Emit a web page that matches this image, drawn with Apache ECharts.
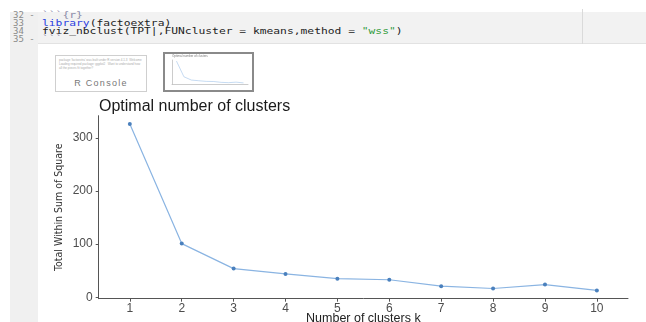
<!DOCTYPE html>
<html>
<head>
<meta charset="utf-8">
<script src="https://cdn.jsdelivr.net/npm/echarts@6/dist/echarts.min.js"></script>
<style>
  body { margin: 0; width: 646px; height: 322px; background: #fff; position: relative; overflow: hidden; font-family: "Liberation Sans", Arial, sans-serif; }
  .abs { position: absolute; }
  #gutter { left: 10px; top: 12px; width: 28px; height: 310px; background: #f0f0f0; }
  #code { left: 38px; top: 12px; right: 0; height: 31px; background: #f2f2f2; border-bottom: 1px solid #e2e2e2; }
  #printMargin { left: 582px; top: 9px; width: 1px; height: 35px; background: #dadada; }
  .ln { left: 13px; font: 9px "DejaVu Sans Mono", monospace; color: #8a8a8a; line-height: 8px; }
  .cl { left: 42px; font: 10px "DejaVu Sans Mono", monospace; color: #222; line-height: 8px; white-space: pre; transform: scaleX(1.13) scaleY(0.9); transform-origin: left center; }
  .kw { color: #2b3fe0; }
  .str { color: #2f9a3a; }
  .tick { color: #8a8aa8; }
  #thumb1 { left: 55px; top: 55px; width: 90px; height: 35px; border: 1px solid #cfcfcf; background: #fff; }
  #thumb1 .tiny { position: absolute; left: 3px; font-size: 3px; line-height: 3px; color: #aaa; white-space: pre; }
  #thumb1 .rc { position: absolute; left: 0; width: 90px; top: 22px; text-align: center; font-size: 9px; color: #777; letter-spacing: 1.3px; }
  #thumb2 { left: 163px; top: 52px; width: 87px; height: 36px; border: 2px solid #8a8a8a; background: #fff; }
  #chart { position: absolute; left: 0; top: 0; width: 646px; height: 322px; z-index: 2; }
</style>
</head>
<body>
<div id="gutter" class="abs"></div>
<div id="code" class="abs"></div>
<div id="printMargin" class="abs"></div>
<div class="abs ln" style="top:11px">32 -</div>
<div class="abs ln" style="top:19px">33</div>
<div class="abs ln" style="top:27px">34</div>
<div class="abs ln" style="top:35px">35 -</div>
<div class="abs cl" style="top:11px"><span class="tick">```{r}</span></div>
<div class="abs cl" style="top:19px"><span class="kw">library</span>(factoextra)</div>
<div class="abs cl" style="top:27px">fviz_nbclust(TPT|,FUNcluster = kmeans,method = <span class="str">"wss"</span>)</div>
<div class="abs cl" style="top:35px"><span class="tick">```</span></div>
<div id="thumb1" class="abs">
  <div class="tiny" style="top:3px">package 'factoextra' was built under R version 4.1.3  Welcome</div>
  <div class="tiny" style="top:7px">Loading required package: ggplot2   Want to understand how</div>
  <div class="tiny" style="top:11px">all the pieces fit together?</div>
  <div class="rc">R Console</div>
</div>
<div id="thumb2" class="abs"></div>
<div id="chart"></div>
<script>
const clusterK = [1, 2, 3, 4, 5, 6, 7, 8, 9, 10];
const totalWithinSS = [326, 101, 54, 44, 35, 33, 21, 16.5, 24, 13];
const xTickLabels = [1, 2, 3, 4, 5, 6, 7, 8, 9, 10];
const yTickLabels = [0, 100, 200, 300];

const points = clusterK.map((k, i) => [k, totalWithinSS[i]]);
// ggplot style 5% expansion around the data range
const yMin = -2.65, yMax = 341.6;

const chart = echarts.init(document.getElementById("chart"), null, { renderer: "canvas" });

const axisGray = "#555";
const labelGray = "#4d4d4d";

chart.setOption({
  backgroundColor: "transparent",
  animation: false,
  title: [
    {
      text: "Optimal number of clusters",
      left: 99,
      top: 99,
      padding: 0,
      textStyle: { fontSize: 16, fontWeight: "normal", color: "#1a1a1a", fontFamily: "Liberation Sans" },
    },
    {
      text: "Optimal number of clusters",
      left: 172,
      top: 55,
      padding: 0,
      textStyle: { fontSize: 3, fontWeight: "normal", color: "#777" },
    },
  ],
  grid: [
    { left: 98.7, right: 18, top: 115.7, bottom: 23.3, outerBoundsMode: "none", containLabel: false },
    { left: 172, right: 398, top: 60, bottom: 238, outerBoundsMode: "none", containLabel: false },
  ],
  xAxis: [
    {
      type: "value",
      gridIndex: 0,
      min: 0.4,
      max: 10.6,
      name: "Number of clusters k",
      nameLocation: "middle",
      nameGap: 13,
      nameMoveOverlap: false,
      nameTextStyle: { fontSize: 12.5, color: "#222", fontFamily: "Liberation Sans" },
      splitLine: { show: false },
      axisLine: { onZero: false, lineStyle: { color: axisGray, width: 1 } },
      axisTick: { show: true, length: 3, customValues: xTickLabels, lineStyle: { color: axisGray } },
      axisLabel: { customValues: xTickLabels, margin: 4, fontSize: 12, color: labelGray, fontFamily: "Liberation Sans" },
    },
    {
      type: "value",
      gridIndex: 1,
      min: 0.4,
      max: 10.6,
      splitLine: { show: false },
      axisLine: { onZero: false, lineStyle: { color: "#999", width: 0.5 } },
      axisTick: { show: false },
      axisLabel: { show: false },
    },
  ],
  yAxis: [
    {
      type: "value",
      gridIndex: 0,
      min: yMin,
      max: yMax,
      name: "Total Within Sum of Square",
      nameLocation: "middle",
      nameGap: 34,
      nameMoveOverlap: false,
      nameTextStyle: { fontSize: 10.5, color: "#333", fontFamily: "'DejaVu Sans Condensed', 'Liberation Sans'" },
      splitLine: { show: false },
      axisLine: { show: true, onZero: false, lineStyle: { color: axisGray, width: 1 } },
      axisTick: { show: true, length: 3, customValues: yTickLabels, lineStyle: { color: axisGray } },
      axisLabel: { customValues: yTickLabels, margin: 6, fontSize: 12, color: labelGray, fontFamily: "Liberation Sans" },
    },
    {
      type: "value",
      gridIndex: 1,
      min: yMin,
      max: yMax,
      splitLine: { show: false },
      axisLine: { show: true, onZero: false, lineStyle: { color: "#999", width: 0.5 } },
      axisTick: { show: false },
      axisLabel: { show: false },
    },
  ],
  series: [
    {
      type: "line",
      xAxisIndex: 0,
      yAxisIndex: 0,
      data: points,
      symbol: "circle",
      symbolSize: 4,
      lineStyle: { color: "#8ab4e2", width: 1.2 },
      itemStyle: { color: "#4a80bd" },
    },
    {
      type: "line",
      xAxisIndex: 1,
      yAxisIndex: 1,
      data: points,
      symbol: "none",
      lineStyle: { color: "#9fc3ea", width: 0.6 },
    },
  ],
});
</script>
</body>
</html>
